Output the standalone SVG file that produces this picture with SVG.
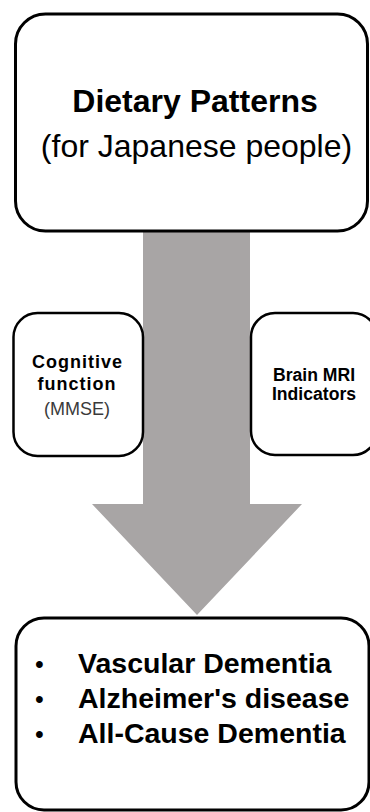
<svg xmlns="http://www.w3.org/2000/svg" width="370" height="812" viewBox="0 0 370 812">
  <style>
    .box { fill: #ffffff; stroke: #000000; stroke-width: 3; }
    .sbox { fill: #ffffff; stroke: #000000; stroke-width: 2.5; }
    .t { font-family: "Liberation Sans", Arial, sans-serif; fill: #000000; }
    .b { font-weight: bold; }
    .arrow { fill: #a8a5a5; stroke: none; }
  </style>
  <rect x="0" y="0" width="370" height="812" fill="#ffffff"/>
  <g id="connectors">
    <polygon class="arrow" points="143,231 250,231 250,504 302,504 197,615 92,504 143,504"/>
  </g>
  <g id="dietary-patterns">
    <rect class="box" x="15.5" y="14" width="352" height="217" rx="30" ry="30"/>
    <text class="t b" x="195" y="112" font-size="32" text-anchor="middle">Dietary Patterns</text>
    <text class="t" x="196.5" y="157" font-size="32" text-anchor="middle">(for Japanese people)</text>
  </g>
  <g id="cognitive-function">
    <rect class="sbox" x="13.5" y="313" width="129.5" height="143" rx="24" ry="24"/>
    <text class="t b" x="77.5" y="368" font-size="18" letter-spacing="1" text-anchor="middle">Cognitive</text>
    <text class="t b" x="77" y="390" font-size="18" letter-spacing="1" text-anchor="middle">function</text>
    <text class="t" x="77" y="415" font-size="18" style="fill:#3a3a3a" text-anchor="middle">(MMSE)</text>
  </g>
  <g id="brain-mri">
    <rect class="sbox" x="251" y="313" width="126" height="142" rx="24" ry="24"/>
    <text class="t b" x="314" y="381" font-size="17.6" text-anchor="middle">Brain MRI</text>
    <text class="t b" x="314" y="400" font-size="17.6" text-anchor="middle">Indicators</text>
  </g>
  <g id="outcomes">
    <rect class="box" x="16" y="618" width="353" height="192" rx="28" ry="28"/>
    <text class="t" x="35" y="673" font-size="25">•</text>
    <text class="t" x="35" y="708" font-size="25">•</text>
    <text class="t" x="35" y="743" font-size="25">•</text>
    <text class="t b" x="78" y="673" font-size="28.5">Vascular Dementia</text>
    <text class="t b" x="78" y="708" font-size="28.5">Alzheimer's disease</text>
    <text class="t b" x="78" y="743" font-size="28.5">All-Cause Dementia</text>
  </g>
</svg>
